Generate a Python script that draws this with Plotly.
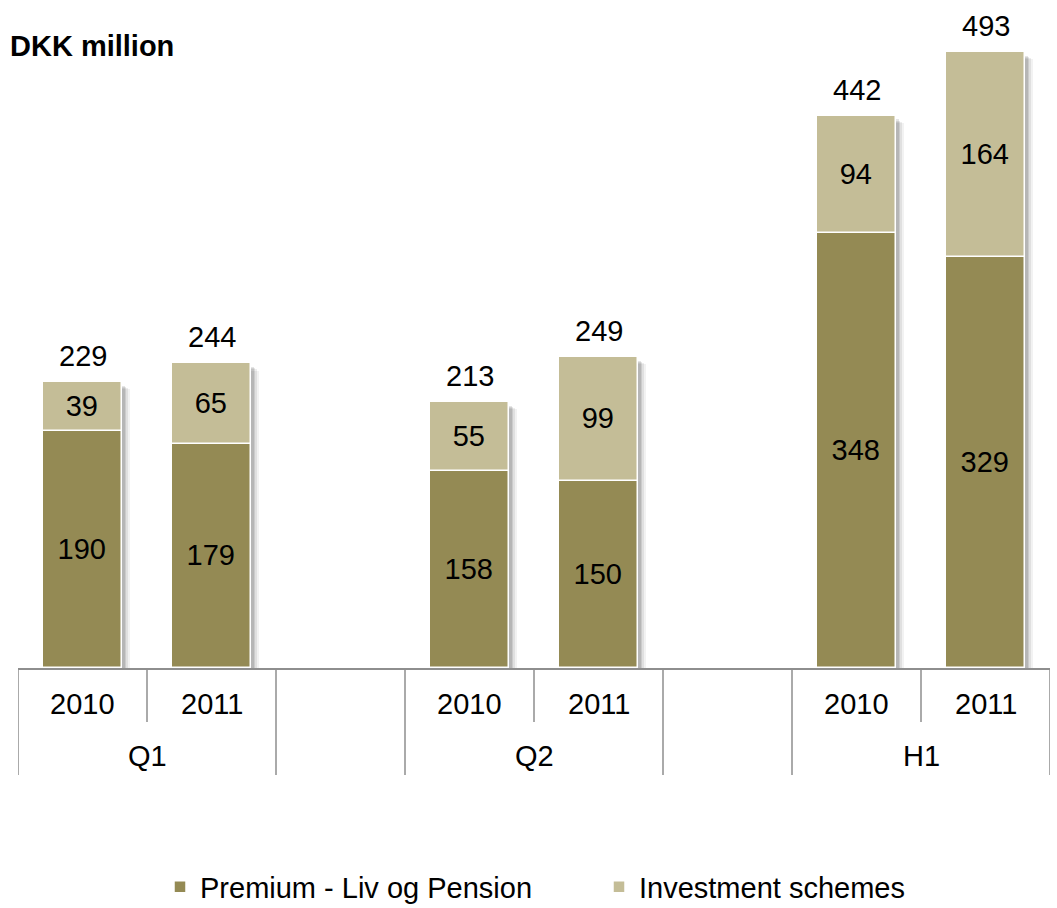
import plotly.graph_objects as go

# Premium income, DKK million
periods = ["Q1", "Q1", "Q2", "Q2", "H1", "H1"]
years = ["2010", "2011", "2010", "2011", "2010", "2011"]
premium = [190, 179, 158, 150, 348, 329]
investment = [39, 65, 55, 99, 94, 164]
totals = [p + i for p, i in zip(premium, investment)]

# slot layout: two bars per period, one empty slot between periods
slots = [0, 1, 3, 4, 6, 7]
n_slots = 8

C_PREM = "#948A54"
C_INV = "#C4BD97"
LINE = "#8E8E8E"
FONT = "Arial, Liberation Sans, sans-serif"
FS = 29
BAR_W = 0.612

fig = go.Figure()

# soft drop shadow behind each stacked column
for dx, drop, alpha in [(0.065, 6, 0.05), (0.05, 5, 0.07), (0.035, 4, 0.09), (0.02, 3, 0.10)]:
    fig.add_trace(go.Bar(
        x=slots, y=[t - drop for t in totals], base=0,
        width=BAR_W, offset=-BAR_W / 2 + dx,
        marker=dict(color=f"rgba(0,0,0,{alpha})", line=dict(width=0)),
        hoverinfo="skip", showlegend=False,
    ))

fig.add_trace(go.Bar(
    name="Premium - Liv og Pension",
    x=slots, y=premium, base=0, width=BAR_W,
    marker=dict(color=C_PREM, line=dict(color="white", width=1.5)),
    text=[str(v) for v in premium], textposition="inside",
    insidetextanchor="middle", textangle=0,
    textfont=dict(family=FONT, size=FS, color="black"),
))
fig.add_trace(go.Bar(
    name="Investment schemes",
    x=slots, y=investment, base=premium, width=BAR_W,
    marker=dict(color=C_INV, line=dict(color="white", width=1.5)),
    text=[str(v) for v in investment], textposition="inside",
    insidetextanchor="middle", textangle=0,
    textfont=dict(family=FONT, size=FS, color="black"),
))

annotations = []
# totals above columns
for s, t in zip(slots, totals):
    annotations.append(dict(
        x=s, y=t, xref="x", yref="y", text=str(t), showarrow=False,
        yanchor="bottom", yshift=8, font=dict(family=FONT, size=FS, color="black"),
    ))

plot_h = 648
# year labels
for s, yr in zip(slots, years):
    annotations.append(dict(
        x=s, y=0, xref="x", yref="paper", text=yr, showarrow=False,
        yanchor="middle", yshift=-36, font=dict(family=FONT, size=FS, color="black"),
    ))
# period labels centred under their pair of bars
seen = []
for p in periods:
    if p not in seen:
        seen.append(p)
for p in seen:
    idx = [slots[i] for i in range(len(periods)) if periods[i] == p]
    annotations.append(dict(
        x=sum(idx) / len(idx), y=0, xref="x", yref="paper", text=p, showarrow=False,
        yanchor="middle", yshift=-88, font=dict(family=FONT, size=FS, color="black"),
    ))

# category dividers below the axis
shapes = []
inner = set()
for p in seen:
    idx = [slots[i] for i in range(len(periods)) if periods[i] == p]
    for a, b in zip(idx[:-1], idx[1:]):
        inner.add((a + b) / 2)
for k in range(n_slots + 1):
    xb = k - 0.5
    depth = 54 if xb in inner else 107
    shapes.append(dict(
        type="line", xref="x", yref="paper", x0=xb, x1=xb, y0=0, y1=-depth / plot_h,
        line=dict(color=LINE, width=1.5),
    ))

fig.update_layout(
    width=1057, height=908,
    margin=dict(l=18, r=7, t=20, b=240, autoexpand=False),
    paper_bgcolor="white", plot_bgcolor="white",
    barmode="overlay", bargap=0,
    title=dict(text="<b>DKK million</b>", x=10 / 1057, xanchor="left",
               y=1 - 46 / 908, yanchor="middle",
               font=dict(family=FONT, size=FS, color="black")),
    xaxis=dict(range=[-0.5, n_slots - 0.5], showticklabels=False, showgrid=False,
               zeroline=False, showline=True, linecolor=LINE, linewidth=1.5, ticks=""),
    yaxis=dict(range=[0, plot_h / 1.2495], visible=False, showgrid=False),
    annotations=annotations, shapes=shapes,
    showlegend=True,
    legend=dict(orientation="h", x=(160 - 18) / 1032, xanchor="left",
                y=(668 - 887) / plot_h, yanchor="middle",
                font=dict(family=FONT, size=FS, color="black"),
                entrywidth=394, traceorder="normal", itemclick=False),
)

fig.write_html("out.html")
